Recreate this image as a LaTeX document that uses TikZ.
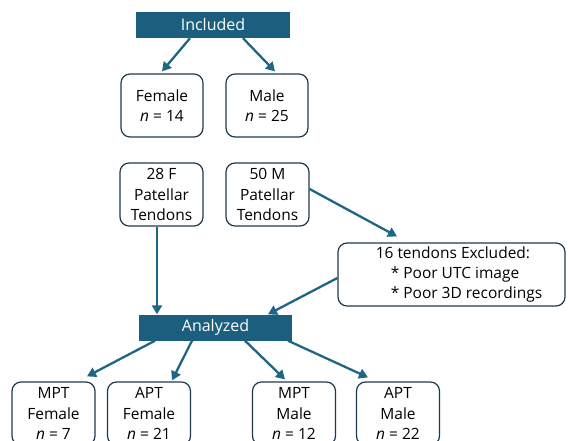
\documentclass[tikz,border=0pt]{standalone}
\usepackage{fontspec}
\setmainfont{Open Sans}
\usetikzlibrary{arrows.meta}
\definecolor{tealfill}{HTML}{1B5E7E}
\definecolor{arrowc}{HTML}{1F6586}
\definecolor{boxline}{HTML}{1F3B4B}
\begin{document}
\begin{tikzpicture}[x=1pt,y=-1pt,
  header/.style={fill=tealfill,draw=none,text=white,minimum width=154pt,minimum height=26pt,inner sep=0pt,font=\fontsize{16}{18}\selectfont},
  rbox/.style={draw=boxline,line width=1.2pt,rounded corners=9pt,minimum width=83pt,minimum height=63pt,inner sep=0pt,align=center,font=\fontsize{15.5}{20.3}\selectfont},
  conn/.style={draw=arrowc,line width=2.3pt,-{Triangle[width=10pt,length=9pt]}}]
\useasboundingbox (0,0) rectangle (568,441);
\clip (0,0) rectangle (568,441);
\node[header] (inc) at (213,25) {Included};
\node[rbox,minimum width=82pt] (fem) at (162,105.5) {Female\\\textit{n} = 14};
\node[rbox,minimum width=82pt] (mal) at (267,105.5) {Male\\\textit{n} = 25};
\node[rbox] (f28) at (161.5,194.5) {28 F\\Patellar\\Tendons};
\node[rbox] (m50) at (267.5,194.5) {50 M\\Patellar\\Tendons};
\node[rbox,minimum width=227pt] (excl) at (451.5,274.5) {\begin{tabular}{@{\hspace{30pt}}l@{}}\hspace*{-15pt}16 tendons Excluded:\\{*} Poor UTC image\\{*} Poor 3D recordings\end{tabular}};
\node[header,minimum width=153pt] (ana) at (215.5,327.5) {Analyzed};
\node[rbox] (mptf) at (53.5,413.5) {MPT\\Female\\\textit{n} = 7};
\node[rbox] (aptf) at (149,413.5) {APT\\Female\\\textit{n} = 21};
\node[rbox] (mptm) at (294,413.5) {MPT\\Male\\\textit{n} = 12};
\node[rbox] (aptm) at (398,413.5) {APT\\Male\\\textit{n} = 22};
\draw[conn] ([xshift=-23pt]inc.south) -- ([yshift=2pt]fem.north);
\draw[conn] ([xshift=30pt]inc.south) -- ([xshift=8pt,yshift=2pt]mal.north);
\draw[conn] ([xshift=-4.5pt]f28.south) -- ([xshift=-4.5pt]f28.south |- ana.north);
\draw[conn] ([yshift=5.5pt]m50.east) -- ([xshift=-54.5pt,yshift=6pt]excl.north);
\draw[conn] ([yshift=-3.5pt]excl.west) -- ([xshift=52.5pt]ana.north);
\draw[conn] ([xshift=-60.5pt]ana.south) -- ([xshift=33.5pt,yshift=5pt]mptf.north);
\draw[conn] ([xshift=-23.5pt]ana.south) -- ([xshift=23pt,yshift=1pt]aptf.north);
\draw[conn] ([xshift=29.5pt]ana.south) -- ([xshift=-9pt,yshift=2pt]mptm.north);
\draw[conn] ([xshift=72.5pt]ana.south) -- ([xshift=-30pt,yshift=4pt]aptm.north);
\end{tikzpicture}
\end{document}
